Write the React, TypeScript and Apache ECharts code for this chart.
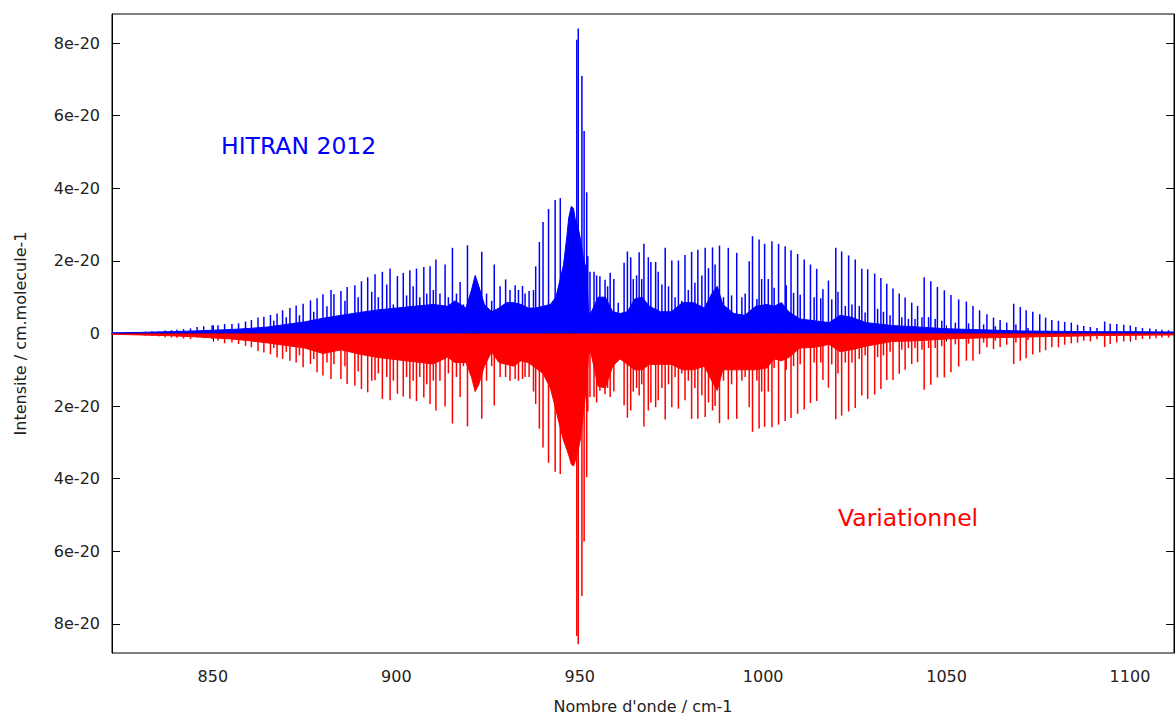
import React, { useEffect, useRef } from "react";
import * as echarts from "echarts";

// Strong lines (cm-1) with intensities in units of 1e-20 cm/molecule
const strongX = [
  831.6, 833.4, 835.2, 837.0, 838.7, 840.2, 842.0, 843.9,
  845.7, 847.5, 849.8, 851.4, 853.2, 855.2, 857.0, 858.9, 860.5, 862.3, 863.9, 865.7, 867.5, 869.0, 871.0, 872.7, 874.6, 876.6, 878.4, 880.0, 882.2,
  883.0, 884.9, 886.6, 888.7, 890.5, 892.2, 894.2, 896.2, 898.3, 900.3, 901.9, 903.7, 905.5, 907.5, 909.2, 910.8, 913.3, 915.3, 917.4, 919.4, 923.3, 926.7, 929.8, 932.4, 934.4, 936.2,
  938.0, 939.0, 940.0, 941.5, 943.3, 944.7,
  949.2, 949.6, 950.6, 951.2, 951.9, 952.2,
  952.8, 953.9, 955.5, 956.9, 958.3, 960.5, 962.1, 963.0, 963.9, 966.2, 967.5, 968.7, 969.4, 970.7, 971.4, 973.3, 975.1, 976.9, 978.7, 980.5, 982.2, 984.2, 986.2, 988.1, 990.5, 992.8, 996.2, 997.1, 998.9, 1000.4,
  1002.4, 1004.2, 1006.0, 1007.6, 1009.4, 1011.2, 1012.9, 1014.6, 1016.3, 1017.8, 1019.8, 1021.4, 1023.3, 1025.1, 1026.9, 1028.5, 1030.4, 1032.1, 1033.7, 1035.4, 1037.1, 1038.7, 1040.5, 1042.1, 1043.9, 1045.7, 1047.5, 1049.4, 1051.2, 1053.3, 1055.4, 1057.2, 1059.0, 1061.0,
  1062.8, 1064.6, 1066.4, 1068.3, 1070.1, 1071.7, 1073.5, 1075.4, 1077.0, 1078.7, 1080.5, 1082.2, 1084.0, 1085.7, 1087.4, 1089.2, 1091.0, 1093.1, 1094.6, 1096.4, 1098.3, 1100.1, 1101.6, 1103.4, 1105.4, 1107.1, 1108.7, 1110.5,
];
const strongHitran = [
  0.05, 0.06, 0.06, 0.08, 0.09, 0.1, 0.12, 0.14,
  0.18, 0.2, 0.23, 0.23, 0.26, 0.26, 0.28, 0.33, 0.37, 0.44, 0.46, 0.51, 0.55, 0.64, 0.7, 0.77, 0.82, 0.91, 0.97, 1.08, 1.2,
  1.08, 1.17, 1.28, 1.33, 1.44, 1.55, 1.63, 1.7, 1.79, 1.58, 1.67, 1.74, 1.79, 1.83, 1.85, 2.04, 1.9, 2.36, 1.42, 2.43, 2.25, 1.9, 1.49, 1.33, 1.31, 1.17,
  1.85, 2.52, 3.07, 3.43, 3.68, 3.73,
  8.09, 8.4, 7.09, 5.58, 3.89, 2.13,
  1.7, 1.7, 1.58, 1.48, 1.67, 0.85, 1.95, 2.26, 2.1, 2.24, 2.47, 2.1, 1.97, 1.97, 1.7, 2.36, 2.01, 2.01, 2.16, 2.25, 2.31, 2.36, 2.37, 2.42, 2.36, 2.22, 1.99, 2.68, 2.59, 2.47,
  2.54, 2.47, 2.4, 2.29, 2.19, 2.04, 1.9, 1.78, 1.22, 1.46, 2.36, 2.26, 2.15, 2.04, 1.78, 1.77, 1.65, 1.53, 1.37, 1.24, 1.1, 0.99, 0.85, 0.76, 1.55, 1.44, 1.28, 1.19, 1.06, 0.94, 0.88, 0.76, 0.64, 0.53,
  0.44, 0.37, 0.3, 0.82, 0.73, 0.64, 0.6, 0.53, 0.44, 0.37, 0.35, 0.32, 0.3, 0.24, 0.21, 0.18, 0.15, 0.33, 0.27, 0.26, 0.24, 0.21, 0.18, 0.15, 0.14, 0.12, 0.1, 0.09,
];
const strongVar = [
  0.06, 0.07, 0.08, 0.1, 0.11, 0.12, 0.14, 0.15,
  0.11, 0.13, 0.15, 0.2, 0.27, 0.25, 0.29, 0.34, 0.38, 0.48, 0.52, 0.57, 0.66, 0.7, 0.75, 0.8, 0.93, 0.84, 1.07, 1.16, 1.25,
  0.85, 1.25, 1.39, 1.43, 1.53, 1.62, 1.29, 1.8, 1.84, 1.66, 1.74, 1.8, 1.86, 1.76, 1.94, 2.12, 2.01, 2.48, 1.75, 2.56, 2.35, 1.98, 1.2, 1.25, 1.25, 1.2,
  1.94, 2.62, 3.14, 3.56, 3.81, 3.87,
  8.33, 8.56, 7.23, 5.73, 3.96, 2.15,
  1.75, 1.75, 1.58, 1.67, 1.75, 0.66, 1.98, 2.32, 2.12, 1.71, 2.56, 2.12, 1.9, 2.03, 1.84, 2.37, 2.03, 2.07, 1.84, 2.35, 2.35, 2.3, 2.12, 2.47, 2.37, 2.35, 2.03, 2.71, 2.62, 2.57,
  2.58, 2.51, 2.41, 2.33, 2.21, 2.09, 1.91, 1.86, 1.28, 1.49, 2.36, 2.26, 2.15, 2.05, 1.71, 1.8, 1.68, 1.53, 1.28, 1.28, 1.11, 1.0, 0.84, 0.79, 1.55, 1.41, 1.21, 1.21, 1.07, 0.91, 0.75, 0.75, 0.57, 0.38,
  0.43, 0.37, 0.31, 0.84, 0.75, 0.68, 0.58, 0.52, 0.46, 0.38, 0.38, 0.31, 0.27, 0.25, 0.2, 0.22, 0.16, 0.37, 0.29, 0.25, 0.22, 0.18, 0.18, 0.15, 0.15, 0.13, 0.11, 0.11,
];

// Weaker lines between the strong ones
const weakX = [
  866.6, 870.0, 873.6, 877.5, 881.1, 886.0, 889.6, 893.3, 895.1, 897.4, 899.2, 902.8, 904.6, 906.4, 908.3, 910.1, 911.9, 914.2, 916.4, 918.3,
  924.6, 926.0, 928.3, 931.0, 933.3, 935.1, 937.4, 954.6, 957.6, 959.3, 964.6, 965.5, 966.9, 972.4, 974.2, 976.0, 977.8, 979.6, 981.4, 983.3,
  985.1, 986.9, 989.2, 991.4, 994.2, 995.1, 998.3, 999.6, 1001.4, 1003.0, 1006.3, 1008.3, 1010.1, 1013.9, 1015.7, 1018.7, 1020.4, 1022.4, 1024.2, 1026.2,
  1027.8, 1031.2, 1032.8, 1034.6, 1037.8, 1039.6, 1041.4, 1043.3, 1045.1, 1046.9, 1048.7, 1052.4, 1056.0, 1060.1, 1063.3, 1068.9, 1072.2,
];
const weakHitran = [
  0.35, 0.45, 0.5, 0.6, 0.75, 0.9, 1.0, 1.15, 1.0, 1.35, 0.8, 1.05, 1.3, 1.0, 1.1, 1.2, 1.1, 1.0, 1.1, 0.8,
  1.1, 0.9, 1.3, 1.2, 1.2, 1.1, 1.2, 1.6, 1.3, 1.5, 1.5, 1.6, 1.5, 1.35, 1.3, 1.0, 0.9, 1.2, 1.4, 1.6,
  1.8, 1.9, 1.0, 1.05, 1.0, 1.1, 0.95, 1.5, 1.5, 1.26, 1.33, 1.12, 1.07, 1.0, 0.97, 0.94, 1.15, 0.76, 0.8, 0.76,
  0.58, 0.68, 0.6, 0.5, 0.45, 0.4, 0.4, 0.45, 0.45, 0.4, 0.35, 0.3, 0.28, 0.25, 0.2, 0.25, 0.15,
];
const weakVar = [
  0.4, 0.5, 0.6, 0.7, 0.8, 0.9, 1.05, 1.3, 1.1, 1.2, 1.3, 1.2, 1.3, 1.2, 1.4, 1.3, 1.3, 1.1, 1.2, 0.9,
  1.3, 0.9, 1.2, 1.3, 1.3, 1.2, 1.6, 1.9, 1.5, 1.6, 1.6, 1.5, 1.4, 1.5, 1.4, 1.2, 1.1, 1.3, 1.5, 1.7,
  1.9, 2.0, 1.3, 1.4, 1.3, 1.2, 1.3, 1.6, 1.6, 0.95, 1.0, 0.9, 0.85, 0.8, 0.8, 0.85, 1.1, 0.8, 0.8, 0.7,
  0.6, 0.65, 0.6, 0.5, 0.45, 0.4, 0.4, 0.45, 0.4, 0.4, 0.35, 0.3, 0.28, 0.25, 0.2, 0.25, 0.18,
];

// Dense background of unresolved weak lines (envelope)
const envX = [
  822.5, 830, 838, 845, 850, 855, 860, 865, 870, 875, 880, 885, 890, 895, 900, 905, 910, 914, 916, 919,
  920.5, 921.5, 922.5, 924, 926, 928, 930, 932, 934, 936, 938, 940, 942, 943.5, 944.7, 945.6, 946.5, 947, 947.7, 948.3,
  948.8, 949.4, 950.2, 951, 951.9, 952.4, 953, 955, 957, 959, 961, 963, 965, 967, 969, 972, 975, 978, 981, 984,
  986, 987.5, 989, 992, 995, 998, 1001, 1003, 1005, 1007, 1010, 1014, 1018, 1021, 1024, 1028, 1035, 1042, 1050, 1060,
  1070, 1080, 1090, 1100, 1112,
];
const envHitran = [
  0.02, 0.03, 0.05, 0.07, 0.09, 0.11, 0.14, 0.18, 0.25, 0.32, 0.42, 0.5, 0.58, 0.65, 0.7, 0.75, 0.8, 0.75, 0.9, 0.7,
  1.2, 1.6, 1.3, 0.8, 0.6, 0.7, 0.85, 0.85, 0.8, 0.7, 0.7, 0.75, 0.8, 1.0, 1.5, 1.9, 2.68, 3.18, 3.5, 3.45,
  3.13, 3.0, 2.6, 2.08, 1.72, 0.6, 0.55, 1.0, 1.0, 0.6, 0.55, 0.6, 0.95, 1.0, 0.75, 0.6, 0.6, 0.85, 0.85, 0.7,
  1.1, 1.3, 0.8, 0.55, 0.5, 0.75, 0.8, 0.75, 0.85, 0.6, 0.4, 0.35, 0.3, 0.5, 0.45, 0.3, 0.22, 0.18, 0.13, 0.1,
  0.07, 0.06, 0.05, 0.05, 0.04,
];
const envVar = [
  0.02, 0.04, 0.06, 0.09, 0.12, 0.15, 0.2, 0.26, 0.33, 0.4, 0.55, 0.45, 0.57, 0.66, 0.72, 0.78, 0.84, 0.65, 0.8, 0.8,
  1.2, 1.6, 1.4, 0.9, 0.5, 0.8, 0.85, 0.9, 0.75, 0.8, 0.95, 1.1, 1.5, 2.1, 2.6, 2.95, 3.2, 3.35, 3.6, 3.65,
  3.5, 3.3, 2.9, 2.2, 1.4, 0.6, 0.5, 1.45, 1.5, 0.9, 0.7, 0.85, 1.0, 1.0, 0.85, 0.85, 0.85, 1.0, 1.0, 0.9,
  1.3, 1.57, 1.0, 1.0, 1.0, 1.0, 0.95, 0.7, 0.75, 0.66, 0.4, 0.38, 0.3, 0.5, 0.45, 0.35, 0.22, 0.2, 0.15, 0.12,
  0.1, 0.08, 0.06, 0.05, 0.04,
];

const xTicks = [850, 900, 950, 1000, 1050, 1100];
const yTicks = [-8, -6, -4, -2, 0, 2, 4, 6, 8];

const BLUE = "#0000ff";
const RED = "#ff0000";
const FONT = "DejaVu Sans";

function spikeSeries(xs: number[], hs: number[], sign: number, color: string, name: string) {
  return {
    type: "custom",
    name,
    xAxisIndex: 0,
    yAxisIndex: 0,
    clip: true,
    data: xs.map((x, i) => [x, sign * hs[i]]),
    encode: { x: 0, y: 1 },
    renderItem: (_p: any, api: any) => {
      const x = api.value(0);
      const h = api.value(1);
      const a = api.coord([x, 0]);
      const b = api.coord([x, h]);
      return {
        type: "line",
        shape: { x1: a[0], y1: a[1], x2: b[0], y2: b[1] },
        style: { stroke: color, lineWidth: 1.5 },
      };
    },
  };
}

function envSeries(hs: number[], sign: number, color: string) {
  return {
    type: "line",
    xAxisIndex: 0,
    yAxisIndex: 0,
    data: envX.map((x, i) => [x, sign * hs[i]]),
    showSymbol: false,
    symbol: "none",
    lineStyle: { color, width: 1 },
    areaStyle: { color, opacity: 1 },
    silent: true,
  };
}

export default function App() {
  const ref = useRef<HTMLDivElement>(null);
  useEffect(() => {
    const chart = echarts.init(ref.current!, null, { renderer: "svg" });
    const axisLine = { show: true, lineStyle: { color: "#000", width: 1 } };
    const tick = { show: true, inside: true, length: 8, lineStyle: { color: "#000", width: 1 } };
    chart.setOption({
      animation: false,
      backgroundColor: "#fff",
      grid: { left: 112, right: 1, top: 14, bottom: 62, show: true, borderColor: "#000", borderWidth: 1 },
      xAxis: [
        {
          type: "value",
          min: 822.5,
          max: 1112,
          position: "bottom",
          axisLine,
          axisTick: { ...tick, customValues: xTicks },
          axisLabel: {
            customValues: xTicks,
            fontFamily: FONT,
            fontSize: 16,
            color: "#222",
            margin: 15,
            formatter: (v: number) => String(v),
          },
          splitLine: { show: false },
          name: "Nombre d'onde / cm-1",
          nameLocation: "middle",
          nameGap: 45,
          nameTextStyle: { fontFamily: FONT, fontSize: 16, color: "#222" },
        },
        {
          type: "value",
          min: 822.5,
          max: 1112,
          position: "top",
          axisLine,
          axisTick: { ...tick, customValues: xTicks },
          axisLabel: { show: false },
          splitLine: { show: false },
        },
      ],
      yAxis: [
        {
          type: "value",
          min: -8.8,
          max: 8.8,
          position: "left",
          axisLine,
          axisTick: { ...tick, customValues: yTicks },
          axisLabel: {
            customValues: yTicks,
            fontFamily: FONT,
            fontSize: 16,
            color: "#222",
            margin: 12,
            formatter: (v: number) => (v === 0 ? "0" : Math.abs(v) + "e-20"),
          },
          splitLine: { show: false },
          name: "Intensite / cm.molecule-1",
          nameLocation: "middle",
          nameGap: 84,
          nameTextStyle: { fontFamily: FONT, fontSize: 16, color: "#222" },
        },
        {
          type: "value",
          min: -8.8,
          max: 8.8,
          position: "right",
          axisLine,
          axisTick: { ...tick, customValues: yTicks },
          axisLabel: { show: false },
          splitLine: { show: false },
        },
      ],
      graphic: [
        {
          type: "text",
          left: 221,
          top: 134,
          style: { text: "HITRAN 2012", fill: BLUE, font: `23.5px "${FONT}"` },
        },
        {
          type: "text",
          left: 838,
          top: 506,
          style: { text: "Variationnel", fill: RED, font: `23.5px "${FONT}"` },
        },
      ],
      series: [
        envSeries(envHitran, 1, BLUE),
        spikeSeries(weakX, weakHitran, 1, BLUE, "HITRAN weak"),
        spikeSeries(strongX, strongHitran, 1, BLUE, "HITRAN 2012"),
        envSeries(envVar, -1, RED),
        spikeSeries(weakX, weakVar, -1, RED, "Variationnel weak"),
        spikeSeries(strongX, strongVar, -1, RED, "Variationnel"),
      ],
    });
    return () => chart.dispose();
  }, []);
  return <div ref={ref} style={{ position: "fixed", left: 0, top: 0, width: 1175, height: 719, background: "#fff" }} />;
}
